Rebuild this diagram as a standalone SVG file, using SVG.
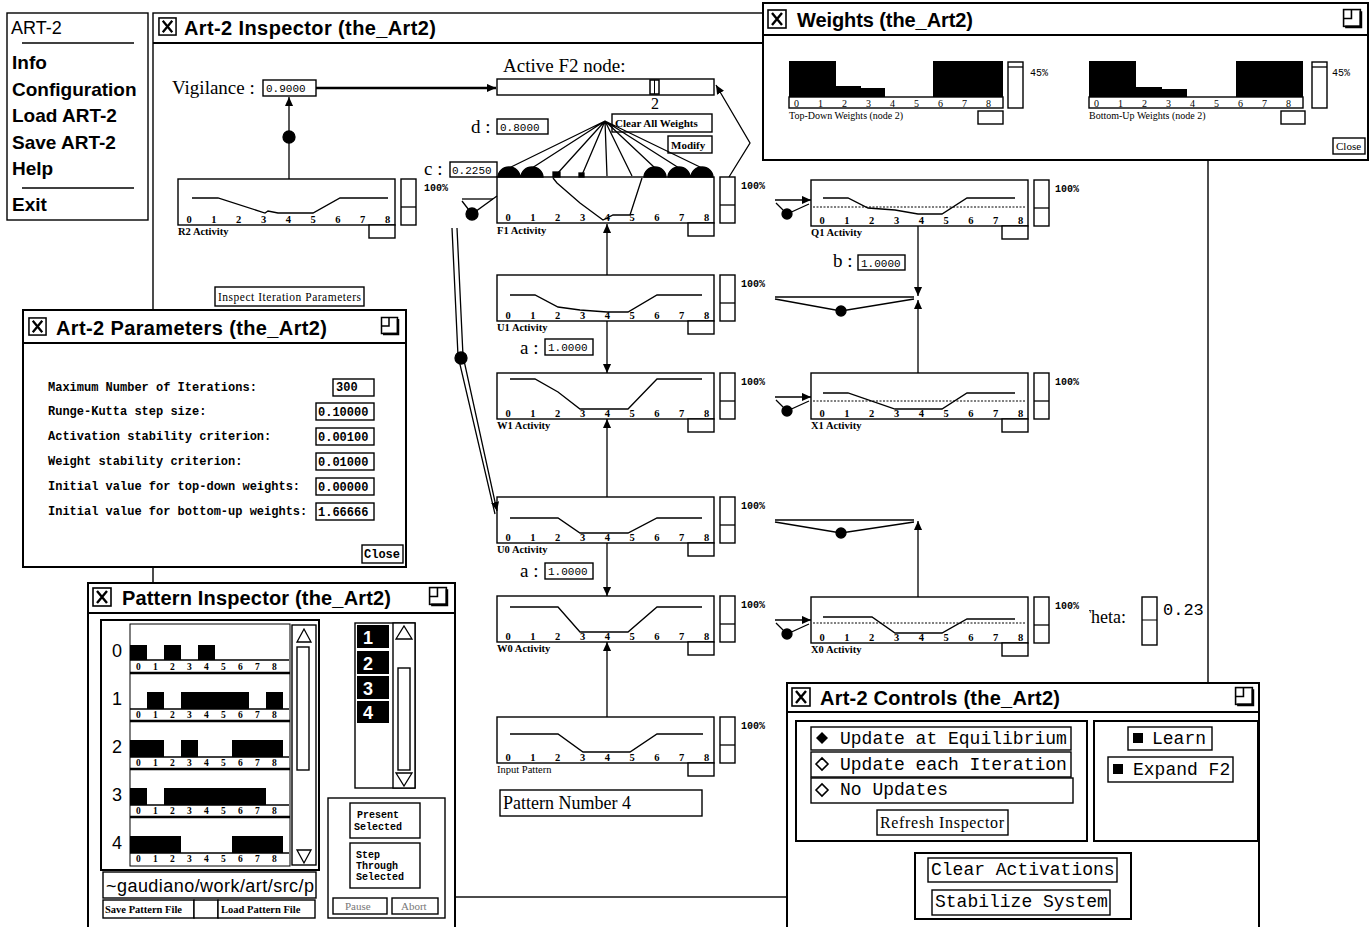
<svg xmlns="http://www.w3.org/2000/svg" width="1371" height="927" viewBox="0 0 1371 927">
<defs>
<style>
.ln{fill:none;stroke:#000;stroke-width:1.3}
.bx{fill:#fff;stroke:#000;stroke-width:1.4}
.fr{fill:#fff;stroke:#000;stroke-width:2}
.ttl{font-family:"Liberation Sans",Arial,sans-serif;font-size:20px;font-weight:bold}
.menu{font-family:"Liberation Sans",Arial,sans-serif;font-size:19px;font-weight:bold}
.ser{font-family:"Liberation Serif","Times New Roman",serif;font-size:19px}
.val{font-family:"Liberation Mono","Courier New",monospace;font-size:11px}
.tk{font-family:"Liberation Serif","Times New Roman",serif;font-size:10.5px;font-weight:bold}
.cl{font-family:"Liberation Serif","Times New Roman",serif;font-size:10.5px;font-weight:bold}
.pc{font-family:"Liberation Mono","Courier New",monospace;font-size:10px;font-weight:bold}
.prof{fill:none;stroke:#000;stroke-width:1.3}
.dl{fill:none;stroke:#000;stroke-width:1;stroke-dasharray:2 1.5}
.pm{font-family:"Liberation Mono","Courier New",monospace;font-size:12px;font-weight:bold}
.ctl{font-family:"Liberation Mono","Courier New",monospace;font-size:18px}
.btn{font-family:"Liberation Serif","Times New Roman",serif;font-size:11px;font-weight:bold}
.sm{font-family:"Liberation Mono","Courier New",monospace;font-size:10px;font-weight:bold}
.wn{font-family:"Liberation Sans",Arial,sans-serif;font-size:18px;font-weight:bold;fill:#fff}
</style>
<marker id="ah" viewBox="0 0 10 10" refX="10" refY="5" markerWidth="9" markerHeight="9" markerUnits="userSpaceOnUse" orient="auto"><path d="M0,0.5 L10,5 L0,9.5 z"/></marker>
<symbol id="xbox" viewBox="0 0 20 20"><rect x="1" y="1" width="18" height="18" fill="#fff" stroke="#000" stroke-width="1.6"/><path d="M5,4 L15,16 M15,4 L5,16" stroke="#000" stroke-width="2.4" fill="none"/></symbol>
<symbol id="mx" viewBox="0 0 20 20"><rect x="1.5" y="1.5" width="16" height="16" fill="#fff" stroke="#000" stroke-width="1.5"/><path d="M1.5,10 H9 V1.5" fill="none" stroke="#000" stroke-width="1.5"/><path d="M18,3 V18 H3" fill="none" stroke="#000" stroke-width="2.5"/></symbol>
<clipPath id="thclip"><rect x="1089" y="600" width="60" height="30"/></clipPath>
</defs>
<rect width="1371" height="927" fill="#fff"/>

<!-- Inspector window frame -->
<g id="inspector">
<rect x="153" y="13" width="1055" height="884" class="bx"/>
<line x1="153" y1="43" x2="1208" y2="43" stroke="#000" stroke-width="2"/>
<use href="#xbox" x="158" y="17" width="19" height="19"/>
<text class="ttl" x="184" y="35" textLength="252">Art-2 Inspector (the_Art2)</text>
</g>

<!-- Controls in inspector -->
<g id="vigilance">
<text class="ser" x="172" y="94">Vigilance :</text>
<rect class="bx" x="263" y="80" width="53" height="16"/><text class="val" x="266" y="92">0.9000</text>
</g>
<g id="active-f2">
<text class="ser" x="503" y="72">Active F2 node:</text>
<rect class="bx" x="497" y="79" width="217" height="16"/>
<rect x="650" y="80" width="9" height="14" fill="#fff" stroke="#000" stroke-width="1.5"/>
<line x1="654.5" y1="80" x2="654.5" y2="94" stroke="#000" stroke-width="1"/>
<text class="ser" x="651" y="109" style="font-size:16px">2</text>
</g>
<g id="param-d">
<text class="ser" x="471" y="133">d :</text>
<rect class="bx" x="497" y="119" width="51" height="15"/><text class="val" x="500" y="131">0.8000</text>
</g>
<g id="param-c">
<text class="ser" x="424" y="175">c :</text>
<rect class="bx" x="450" y="162" width="47" height="15"/><text class="val" x="452" y="174">0.2250</text>
</g>
<g id="btn-clear-weights">
<rect class="bx" x="612" y="114" width="100" height="18"/><text class="btn" x="615" y="127">Clear All Weights</text>
</g>
<g id="btn-modify">
<rect class="bx" x="668" y="136" width="44" height="17"/><text class="btn" x="671" y="149">Modify</text>
</g>
<g id="btn-inspect-iter">
<rect class="bx" x="215" y="287" width="149" height="19"/><text class="btn" x="218" y="301" style="font-weight:normal;font-size:11.5px" textLength="143">Inspect Iteration Parameters</text>
</g>
<g id="theta">
<text class="ser" x="1080" y="623" style="font-size:18px" clip-path="url(#thclip)">Theta:</text>
<rect class="bx" x="1142" y="597" width="15" height="48"/>
<line x1="1142" y1="620" x2="1157" y2="620" stroke="#000" stroke-width="1"/>
<text class="val" x="1163" y="615" style="font-size:17px">0.23</text>
</g>
<g id="pattern-number">
<rect class="bx" x="500" y="790" width="202" height="26"/>
<text class="ser" x="503" y="809" style="font-size:18px">Pattern Number 4</text>
</g>

<!-- Activity charts -->
<g id="chart-r2" transform="translate(178,179)">
<rect class="bx" width="217" height="46"/>
<polyline class="prof" points="14,19 40,19 87,34 90,32 100,34 135,34 162,19 210,19"/>
<text class="tk" x="8.5 33.3 58.1 82.9 107.7 132.5 157.3 182.1 206.9" y="44">012345678</text>
<rect class="bx" x="223" width="15" height="46"/><line class="ln" x1="223" y1="28" x2="238" y2="28"/>
<rect class="bx" x="191" y="46" width="26" height="13"/>
<text class="cl" x="0" y="56">R2 Activity</text><text class="pc" x="246" y="12">100%</text>
</g>
<g id="chart-f1" transform="translate(497,177)">
<rect class="bx" width="217" height="46"/>
<polyline class="prof" points="56,1 60,6 83,26 106,43 116,38 133,38 145,1"/>
<text class="tk" x="8.5 33.3 58.1 82.9 107.7 132.5 157.3 182.1 206.9" y="44">012345678</text>
<rect class="bx" x="223" width="15" height="46"/><line class="ln" x1="223" y1="28" x2="238" y2="28"/>
<rect class="bx" x="191" y="46" width="26" height="13"/>
<text class="cl" x="0" y="57">F1 Activity</text><text class="pc" x="244" y="12">100%</text>
</g>
<g id="chart-u1" transform="translate(497,275)">
<rect class="bx" width="217" height="46"/>
<polyline class="prof" points="13,20 38,20 61,32 83,35 110,37 131,37 160,20 205,20"/>
<text class="tk" x="8.5 33.3 58.1 82.9 107.7 132.5 157.3 182.1 206.9" y="44">012345678</text>
<rect class="bx" x="223" width="15" height="46"/><line class="ln" x1="223" y1="28" x2="238" y2="28"/>
<rect class="bx" x="191" y="46" width="26" height="13"/>
<text class="cl" x="0" y="56">U1 Activity</text><text class="pc" x="244" y="12">100%</text>
</g>
<g id="chart-w1" transform="translate(497,373)">
<rect class="bx" width="217" height="46"/>
<polyline class="prof" points="13,6 38,6 61,19 83,36 131,36 160,6 205,6"/>
<text class="tk" x="8.5 33.3 58.1 82.9 107.7 132.5 157.3 182.1 206.9" y="44">012345678</text>
<rect class="bx" x="223" width="15" height="46"/><line class="ln" x1="223" y1="28" x2="238" y2="28"/>
<rect class="bx" x="191" y="46" width="26" height="13"/>
<text class="cl" x="0" y="56">W1 Activity</text><text class="pc" x="244" y="12">100%</text>
</g>
<g id="chart-u0" transform="translate(497,497)">
<rect class="bx" width="217" height="46"/>
<polyline class="prof" points="13,21 61,21 83,36 131,36 160,21 205,21"/>
<text class="tk" x="8.5 33.3 58.1 82.9 107.7 132.5 157.3 182.1 206.9" y="44">012345678</text>
<rect class="bx" x="223" width="15" height="46"/><line class="ln" x1="223" y1="28" x2="238" y2="28"/>
<rect class="bx" x="191" y="46" width="26" height="13"/>
<text class="cl" x="0" y="56">U0 Activity</text><text class="pc" x="244" y="12">100%</text>
</g>
<g id="chart-w0" transform="translate(497,596)">
<rect class="bx" width="217" height="46"/>
<polyline class="prof" points="13,11 61,11 83,36 131,36 160,11 205,11"/>
<text class="tk" x="8.5 33.3 58.1 82.9 107.7 132.5 157.3 182.1 206.9" y="44">012345678</text>
<rect class="bx" x="223" width="15" height="46"/><line class="ln" x1="223" y1="28" x2="238" y2="28"/>
<rect class="bx" x="191" y="46" width="26" height="13"/>
<text class="cl" x="0" y="56">W0 Activity</text><text class="pc" x="244" y="12">100%</text>
</g>
<g id="chart-input" transform="translate(497,717)">
<rect class="bx" width="217" height="46"/>
<polyline class="prof" points="13,17 61,17 86,35 133,35 160,17 206,17"/>
<text class="tk" x="8.5 33.3 58.1 82.9 107.7 132.5 157.3 182.1 206.9" y="44">012345678</text>
<rect class="bx" x="223" width="15" height="46"/><line class="ln" x1="223" y1="28" x2="238" y2="28"/>
<rect class="bx" x="191" y="46" width="26" height="13"/>
<text class="cl" x="0" y="56" style="font-weight:normal">Input Pattern</text><text class="pc" x="244" y="12">100%</text>
</g>
<g id="chart-q1" transform="translate(811,180)">
<rect class="bx" width="217" height="46"/>
<line class="dl" x1="2" y1="27" x2="215" y2="27"/>
<polyline class="prof" points="12,18 37,18 57,28 84,30 107,34 131,34 156,18 204,18"/>
<text class="tk" x="8.5 33.3 58.1 82.9 107.7 132.5 157.3 182.1 206.9" y="44">012345678</text>
<rect class="bx" x="223" width="15" height="46"/><line class="ln" x1="223" y1="28" x2="238" y2="28"/>
<rect class="bx" x="191" y="46" width="26" height="13"/>
<text class="cl" x="0" y="56">Q1 Activity</text><text class="pc" x="244" y="12">100%</text>
</g>
<g id="chart-x1" transform="translate(811,373)">
<rect class="bx" width="217" height="46"/>
<line class="dl" x1="2" y1="28" x2="215" y2="28"/>
<polyline class="prof" points="12,20 37,20 84,36 131,36 156,20 204,20"/>
<text class="tk" x="8.5 33.3 58.1 82.9 107.7 132.5 157.3 182.1 206.9" y="44">012345678</text>
<rect class="bx" x="223" width="15" height="46"/><line class="ln" x1="223" y1="28" x2="238" y2="28"/>
<rect class="bx" x="191" y="46" width="26" height="13"/>
<text class="cl" x="0" y="56">X1 Activity</text><text class="pc" x="244" y="12">100%</text>
</g>
<g id="chart-x0" transform="translate(811,597)">
<rect class="bx" width="217" height="46"/>
<line class="dl" x1="2" y1="26" x2="215" y2="26"/>
<polyline class="prof" points="12,20 61,20 84,36 131,36 156,22 204,22"/>
<text class="tk" x="8.5 33.3 58.1 82.9 107.7 132.5 157.3 182.1 206.9" y="44">012345678</text>
<rect class="bx" x="223" width="15" height="46"/><line class="ln" x1="223" y1="28" x2="238" y2="28"/>
<rect class="bx" x="191" y="46" width="26" height="13"/>
<text class="cl" x="0" y="56">X0 Activity</text><text class="pc" x="244" y="12">100%</text>
</g>
<g id="param-a1">
<text class="ser" x="520" y="354">a :</text>
<rect class="bx" x="545" y="339" width="48" height="16"/><text class="val" x="548" y="351">1.0000</text>
</g>
<g id="param-a0">
<text class="ser" x="520" y="577">a :</text>
<rect class="bx" x="545" y="563" width="48" height="16"/><text class="val" x="548" y="575">1.0000</text>
</g>
<g id="param-b">
<text class="ser" x="833" y="267">b :</text>
<rect class="bx" x="858" y="255" width="47" height="15"/><text class="val" x="861" y="267">1.0000</text>
</g>

<!-- Connectors -->
<g id="connectors" class="ln">
<line x1="289" y1="179" x2="289" y2="97" marker-end="url(#ah)"/>
<circle cx="289" cy="137" r="6" fill="#000"/>
<line x1="316" y1="88" x2="496" y2="88" stroke-width="2.4" marker-end="url(#ah)"/>
<polyline points="729,177 750,143 716,85" marker-end="url(#ah)"/>
<path d="M605,121 L509,168 M605,121 L532,168 M605,121 L557,174 M605,121 L582,175 M605,121 L607,176 M605,121 L632,176 M605,121 L655,168 M605,121 L679,168 M605,121 L702,168"/>
<path d="M498,177 A11,10 0 0 1 520,177 Z M521,177 A11,10 0 0 1 543,177 Z M644,177 A11,10 0 0 1 666,177 Z M668,177 A11,10 0 0 1 690,177 Z M691,177 A11,10 0 0 1 713,177 Z" fill="#000"/>
<rect x="553" y="172" width="7" height="5" fill="#000"/>
<rect x="579" y="173" width="5" height="4" fill="#000"/>
<line x1="462" y1="199" x2="493" y2="199"/>
<polyline points="462,201 472,214 497,196"/>
<circle cx="472" cy="214" r="6" fill="#000"/>
<polyline points="452,228 458,356 495,514"/>
<polyline points="457,228 463,356 497,511" marker-end="url(#ah)"/>
<circle cx="461" cy="358" r="6" fill="#000"/>
<line x1="607" y1="275" x2="607" y2="224" marker-end="url(#ah)"/>
<line x1="607" y1="321" x2="607" y2="373" marker-end="url(#ah)"/>
<line x1="607" y1="497" x2="607" y2="419" marker-end="url(#ah)"/>
<line x1="607" y1="543" x2="607" y2="596" marker-end="url(#ah)"/>
<line x1="607" y1="717" x2="607" y2="642" marker-end="url(#ah)"/>
<line x1="918" y1="226" x2="918" y2="296" marker-end="url(#ah)"/>
<line x1="918" y1="373" x2="918" y2="300" marker-end="url(#ah)"/>
<line x1="918" y1="597" x2="918" y2="521" marker-end="url(#ah)"/>
<line x1="775" y1="297" x2="914" y2="297"/>
<polyline points="775,299 841,311 914,299"/>
<circle cx="841" cy="311" r="5" fill="#000"/>
<line x1="775" y1="520" x2="914" y2="520"/>
<polyline points="775,522 841,533 914,522"/>
<circle cx="841" cy="533" r="5" fill="#000"/>
<line x1="775" y1="200" x2="811" y2="200" marker-end="url(#ah)"/>
<polyline points="776,203 787,214 809,204"/>
<circle cx="787" cy="214" r="5" fill="#000"/>
<line x1="775" y1="397" x2="811" y2="397" marker-end="url(#ah)"/>
<polyline points="776,400 787,411 809,401"/>
<circle cx="787" cy="411" r="5" fill="#000"/>
<line x1="775" y1="620" x2="811" y2="620" marker-end="url(#ah)"/>
<polyline points="776,623 787,634 809,624"/>
<circle cx="787" cy="634" r="5" fill="#000"/>
</g>

<!-- ART-2 menu -->
<g id="menu">
<rect class="bx" x="7" y="13" width="141" height="207"/>
<text class="ttl" x="11" y="34" style="font-size:18px;font-weight:normal">ART-2</text>
<line x1="22" y1="43" x2="134" y2="43" stroke="#000" stroke-width="1.5"/>
<text class="menu" x="12" y="69">Info</text>
<text class="menu" x="12" y="96">Configuration</text>
<text class="menu" x="12" y="122">Load ART-2</text>
<text class="menu" x="12" y="149">Save ART-2</text>
<text class="menu" x="12" y="175">Help</text>
<line x1="22" y1="188" x2="134" y2="188" stroke="#000" stroke-width="1.5"/>
<text class="menu" x="12" y="211">Exit</text>
</g>

<!-- Parameters window -->
<g id="parameters">
<rect class="fr" x="23" y="310" width="383" height="257"/>
<line x1="23" y1="343" x2="406" y2="343" stroke="#000" stroke-width="2"/>
<use href="#xbox" x="28" y="317" width="19" height="19"/>
<text class="ttl" x="56" y="335" textLength="271">Art-2 Parameters (the_Art2)</text>
<use href="#mx" x="380" y="316" width="20" height="20"/>
<text class="pm" x="48" y="391">Maximum Number of Iterations:</text>
<rect class="bx" x="333" y="379" width="41" height="17"/><text class="pm" x="336" y="391">300</text>
<text class="pm" x="48" y="415">Runge-Kutta step size:</text>
<rect class="bx" x="316" y="403" width="58" height="17"/><text class="pm" x="318" y="416">0.10000</text>
<text class="pm" x="48" y="440">Activation stability criterion:</text>
<rect class="bx" x="316" y="428" width="58" height="17"/><text class="pm" x="318" y="441">0.00100</text>
<text class="pm" x="48" y="465">Weight stability criterion:</text>
<rect class="bx" x="316" y="453" width="58" height="17"/><text class="pm" x="318" y="466">0.01000</text>
<text class="pm" x="48" y="490">Initial value for top-down weights:</text>
<rect class="bx" x="316" y="478" width="58" height="17"/><text class="pm" x="318" y="491">0.00000</text>
<text class="pm" x="48" y="515">Initial value for bottom-up weights:</text>
<rect class="bx" x="316" y="503" width="58" height="17"/><text class="pm" x="318" y="516">1.66666</text>
<rect class="bx" x="362" y="545" width="41" height="18"/><text class="pm" x="364" y="558">Close</text>
</g>

<!-- Pattern Inspector window -->
<g id="pattern-inspector">
<rect class="fr" x="88" y="583" width="367" height="360"/>
<line x1="88" y1="613" x2="455" y2="613" stroke="#000" stroke-width="2"/>
<use href="#xbox" x="92" y="587" width="20" height="20"/>
<text class="ttl" x="122" y="605" textLength="269">Pattern Inspector (the_Art2)</text>
<use href="#mx" x="428" y="586" width="21" height="21"/>
<rect class="fr" x="101" y="620" width="218" height="250"/>
<rect x="130" y="624" width="160" height="242" fill="#fff" stroke="#000" stroke-width="1"/>
<g style="font-family:'Liberation Sans',Arial,sans-serif;font-size:18px">
<text x="112" y="657">0</text><text x="112" y="705">1</text><text x="112" y="753">2</text><text x="112" y="801">3</text><text x="112" y="849">4</text>
</g>
<g fill="#000">
<rect x="130" y="645" width="17" height="15"/><rect x="164" y="645" width="17" height="15"/><rect x="198" y="645" width="17" height="15"/>
<rect x="147" y="692" width="17" height="17"/><rect x="181" y="692" width="68" height="17"/><rect x="266" y="692" width="17" height="17"/>
<rect x="130" y="740" width="34" height="17"/><rect x="181" y="740" width="17" height="17"/><rect x="232" y="740" width="51" height="17"/>
<rect x="130" y="788" width="17" height="17"/><rect x="164" y="788" width="102" height="17"/>
<rect x="130" y="836" width="51" height="17"/><rect x="232" y="836" width="51" height="17"/>
</g>
<path class="ln" d="M130,660 H289 M130,709 H289 M130,757 H289 M130,805 H289 M130,853 H289"/>
<path d="M130,673 H290 M130,721 H290 M130,769 H290 M130,817 H290" stroke="#000" stroke-width="2.5"/>
<g>
<text class="tk" style="font-size:9.5px" x="136 153 170 187 204 221 238 255 272" y="670">012345678</text>
<text class="tk" style="font-size:9.5px" x="136 153 170 187 204 221 238 255 272" y="718">012345678</text>
<text class="tk" style="font-size:9.5px" x="136 153 170 187 204 221 238 255 272" y="766">012345678</text>
<text class="tk" style="font-size:9.5px" x="136 153 170 187 204 221 238 255 272" y="814">012345678</text>
<text class="tk" style="font-size:9.5px" x="136 153 170 187 204 221 238 255 272" y="862">012345678</text>
</g>
<rect class="bx" x="292" y="625" width="24" height="240"/>
<path d="M297,642 L304,629 L311,642 Z M297,850 L304,863 L311,850 Z" fill="#fff" stroke="#000" stroke-width="1.3"/>
<rect class="bx" x="297" y="647" width="12" height="123"/>
<rect class="bx" x="103" y="872" width="213" height="26"/>
<text x="106" y="892" style="font-family:'Liberation Sans',Arial,sans-serif;font-size:18px" textLength="208">~gaudiano/work/art/src/p</text>
<rect class="bx" x="103" y="900" width="91" height="18"/><text class="btn" x="105" y="913" style="font-size:10.5px">Save Pattern File</text>
<rect class="bx" x="194" y="900" width="24" height="18"/>
<rect class="bx" x="218" y="900" width="97" height="18"/><text class="btn" x="221" y="913" style="font-size:10.5px">Load Pattern File</text>
<rect class="bx" x="355" y="623" width="60" height="165"/>
<rect x="357" y="625" width="32" height="23" fill="#000"/><rect x="357" y="651" width="32" height="23" fill="#000"/>
<rect x="357" y="676" width="32" height="23" fill="#000"/><rect x="357" y="701" width="32" height="22" fill="#000"/>
<text class="wn" x="363" y="644">1</text><text class="wn" x="363" y="670">2</text><text class="wn" x="363" y="695">3</text><text class="wn" x="363" y="719">4</text>
<rect class="bx" x="393" y="623" width="22" height="165"/>
<path d="M396,639 L404,626 L412,639 Z M396,773 L404,786 L412,773 Z" fill="#fff" stroke="#000" stroke-width="1.3"/>
<rect class="bx" x="398" y="668" width="12" height="102"/>
<rect class="bx" x="328" y="798" width="117" height="120"/>
<rect class="bx" x="350" y="803" width="70" height="35"/>
<text class="sm" x="357" y="818">Present</text><text class="sm" x="354" y="830">Selected</text>
<rect class="bx" x="350" y="843" width="70" height="45"/>
<text class="sm" x="356" y="858">Step</text><text class="sm" x="356" y="869">Through</text><text class="sm" x="356" y="880">Selected</text>
<rect class="bx" x="333" y="898" width="54" height="16"/><text class="btn" x="345" y="910" style="fill:#777;font-weight:normal">Pause</text>
<rect class="bx" x="392" y="898" width="46" height="16"/><text class="btn" x="401" y="910" style="fill:#777;font-weight:normal">Abort</text>
</g>

<!-- Art-2 Controls window -->
<g id="controls">
<rect class="fr" x="787" y="683" width="472" height="260"/>
<line x1="787" y1="712" x2="1259" y2="712" stroke="#000" stroke-width="2"/>
<use href="#xbox" x="791" y="687" width="20" height="20"/>
<text class="ttl" x="820" y="705" textLength="240">Art-2 Controls (the_Art2)</text>
<use href="#mx" x="1234" y="686" width="21" height="21"/>
<rect class="fr" x="796" y="721" width="291" height="120"/>
<rect class="bx" x="811" y="727" width="260" height="23"/>
<path d="M816,738 L822,732 L828,738 L822,744 Z" fill="#000"/>
<text class="ctl" x="840" y="744">Update at Equilibrium</text>
<rect class="bx" x="811" y="752" width="260" height="25"/>
<path d="M816,764 L822,758 L828,764 L822,770 Z" fill="#fff" stroke="#000" stroke-width="1.6"/>
<text class="ctl" x="840" y="770">Update each Iteration</text>
<rect class="bx" x="811" y="778" width="262" height="25"/>
<path d="M816,790 L822,784 L828,790 L822,796 Z" fill="#fff" stroke="#000" stroke-width="1.6"/>
<text class="ctl" x="840" y="795">No Updates</text>
<rect class="bx" x="877" y="810" width="131" height="25"/>
<text class="ser" x="880" y="828" style="font-size:16px" textLength="124">Refresh Inspector</text>
<rect class="fr" x="1094" y="721" width="164" height="120"/>
<rect class="bx" x="1128" y="727" width="84" height="23"/>
<rect x="1133" y="733" width="10" height="10" fill="#000"/>
<text class="ctl" x="1152" y="744">Learn</text>
<rect class="bx" x="1108" y="757" width="125" height="25"/>
<rect x="1113" y="764" width="10" height="10" fill="#000"/>
<text class="ctl" x="1133" y="775">Expand F2</text>
<rect class="fr" x="915" y="853" width="216" height="66"/>
<rect class="bx" x="928" y="858" width="189" height="24"/>
<text class="ctl" x="931" y="875">Clear Activations</text>
<rect class="bx" x="932" y="890" width="178" height="25"/>
<text class="ctl" x="935" y="907">Stabilize System</text>
</g>

<!-- Weights window -->
<g id="weights">
<rect class="fr" x="763" y="3" width="605" height="157"/>
<line x1="763" y1="35" x2="1368" y2="35" stroke="#000" stroke-width="2"/>
<use href="#xbox" x="767" y="9" width="20" height="20"/>
<text class="ttl" x="797" y="27" textLength="176">Weights (the_Art2)</text>
<use href="#mx" x="1342" y="8" width="21" height="21"/>
<rect x="789" y="61" width="214" height="36" fill="#000"/>
<path d="M836,61 H933 V97 H885 V88 H861 V86 H836 Z" fill="#fff"/>
<rect class="bx" x="789" y="97" width="214" height="11"/>
<text class="tk" x="794 818 842 866 890 914 938 962 986" y="107" style="font-weight:normal;font-size:10px">012345678</text>
<rect class="bx" x="1008" y="62" width="15" height="46"/><line class="ln" x1="1008" y1="67" x2="1023" y2="67"/>
<text class="pc" x="1030" y="76" style="font-weight:normal">45%</text>
<text class="cl" x="789" y="119" style="font-weight:normal;font-size:10px">Top-Down Weights (node 2)</text>
<rect class="bx" x="978" y="111" width="25" height="13"/>
<rect x="1089" y="61" width="214" height="36" fill="#000"/>
<path d="M1136,61 H1236 V97 H1187 V89 H1162 V87 H1136 Z" fill="#fff"/>
<rect class="bx" x="1089" y="97" width="214" height="11"/>
<text class="tk" x="1094 1118 1142 1166 1190 1214 1238 1262 1286" y="107" style="font-weight:normal;font-size:10px">012345678</text>
<rect class="bx" x="1312" y="62" width="15" height="46"/><line class="ln" x1="1312" y1="67" x2="1327" y2="67"/>
<text class="pc" x="1332" y="76" style="font-weight:normal">45%</text>
<text class="cl" x="1089" y="119" style="font-weight:normal;font-size:10px">Bottom-Up Weights (node 2)</text>
<rect class="bx" x="1281" y="111" width="24" height="13"/>
<rect class="bx" x="1333" y="138" width="32" height="16"/>
<text class="btn" x="1336" y="150" style="font-weight:normal">Close</text>
</g>
</svg>
